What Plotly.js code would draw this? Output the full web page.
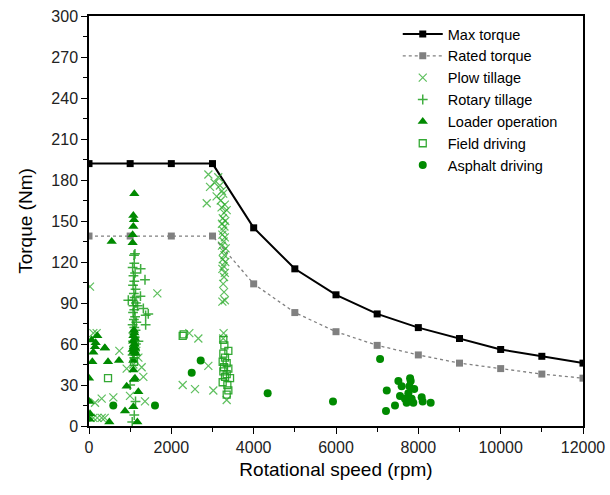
<!DOCTYPE html>
<html><head><meta charset="utf-8">
<script src="https://cdn.plot.ly/plotly-3.0.1.min.js"></script>
<style>body{margin:0;background:#fff}#g{width:610px;height:495px}</style>
</head><body><div id="g"></div>
<script>
// Envelope curves
const speedRpm = [0,1000,2000,3000,4000,5000,6000,7000,8000,9000,10000,11000,12000];
const maxTorque = [192,192,192,192,145,115,96,82,72,64,56,51,46];
const ratedTorque = [139,139,139,139,104,83,69,59,52,46,42,38,35];

// Axis ticks
const xTickVals = [0,2000,4000,6000,8000,10000,12000];
const xTickText = ['0','2000','4000','6000','8000','10000','12000'];
const yTickVals = [0,30,60,90,120,150,180,210,240,270,300];

// Plow tillage
const plowX = [2900,3140,3050,2940,3180,3230,2860,3345,3100,3200,3260,3300,3220,3280,3250,3310,3230,3290,3260,3240,3300,3270,3230,3320,3260,3290,3250,3310,3270,3240,3300,3280,3260,3280,3300,3270,3260,3345,
  24,1660,105,186,737,915,1279,1320,1360,591,308,146,105,308,202,381,40,996,2276,2575,3020,2437,2656,2899,1077,1200,1150,3240];
const plowY = [184,182,178,175,176,172,163,158,168,165,170,162,160,156,152,150,148,146,143,140,138,135,132,130,128,125,122,120,117,115,112,109,104,98,92,68,64,19,
  102,97,68,68,55,42,43,36,18,21,20,17,6,6,6,6,6,22,30,27,26,68,64,44,45,50,55,91];

// Rotary tillage
const rotaryX = [1093,1117,1255,1360,955,1376,1440,1376,1100,1060,1120,1080,1100,1070,1130,1090,1110,1060,1140,1080,1100,1070,1120,1090,1150,1060,1100,1130,1080,1110,1070,1140,1090,1120,1060,1100,1050,1100,1130,1000,1200,1250,1180,1320];
const rotaryY = [125,126,115,107,92,81,82,74,119,116,112,110,106,103,100,97,94,92,90,88,85,83,80,78,76,74,72,70,68,65,62,60,58,55,52,50,3,8,18,30,62,95,88,86];

// Loader operation
const loaderX = [1101,1077,1093,1077,1060,1060,551,1090,1100,1080,1110,1070,1100,1090,1120,1060,1100,1080,1130,1077,1077,1093,1117,915,1198,1077,875,1174,494,202,162,381,105,81,462,729,0,24,10,5,65,146,389];
const loaderY = [170,154,151,146,140,134,135,70,68,66,64,62,60,58,57,56,55,54,53,48,41,34,35,29,25,14,11,3,3,66,61,57,54,47,47,48,35,9,18,5,63,58,57];

// Field driving
const fieldX = [462,1093,2276,2300,3263,3288,3385,3263,3304,3247,3345,3280,3385,3263,3345,3304,3247,3426,3361,3385,3345];
const fieldY = [35,47,66,67,63,59,55,53,50,47,46,43,42,40,38,36,32,35,30,26,23];

// Asphalt driving
const asphaltX = [590,1603,2495,2713,4340,5927,7071,7233,7515,7814,7595,7757,7555,7838,8081,8105,8300,7433,7214,7716,7878,7675,7783,7800,7900];
const asphaltY = [15,15,39,48,24,18,49,26,33,33,29,24,22,20,21,18,17,15,11,17,17,20,29,35,27];

const green = '#008a00';
const traces = [
  {x:speedRpm, y:maxTorque, name:'Max torque', mode:'lines+markers',
   line:{color:'#000', width:2}, marker:{symbol:'square', size:7, color:'#000'}},
  {x:speedRpm, y:ratedTorque, name:'Rated torque', mode:'lines+markers',
   line:{color:'#808080', width:1.3, dash:'dot'}, marker:{symbol:'square', size:7, color:'#808080'}},
  {x:plowX, y:plowY, name:'Plow tillage', mode:'markers',
   marker:{symbol:'x-thin-open', size:8, color:'rgba(40,170,40,0.75)', line:{width:1.2}}},
  {x:rotaryX, y:rotaryY, name:'Rotary tillage', mode:'markers',
   marker:{symbol:'cross-thin-open', size:7, color:'rgba(30,160,30,0.85)', line:{width:1.5}}},
  {x:loaderX, y:loaderY, name:'Loader operation', mode:'markers',
   marker:{symbol:'triangle-up', size:9, color:green}},
  {x:fieldX, y:fieldY, name:'Field driving', mode:'markers',
   marker:{symbol:'square-open', size:7, color:'rgba(30,160,30,0.9)', line:{width:1.3}}},
  {x:asphaltX, y:asphaltY, name:'Asphalt driving', mode:'markers',
   marker:{symbol:'circle', size:8, color:green}}
];

const layout = {
  width:610, height:495,
  margin:{l:89, r:27, t:16, b:69},
  paper_bgcolor:'#fff', plot_bgcolor:'#fff',
  font:{family:'Liberation Sans, Arial, sans-serif', size:16, color:'#222'},
  showlegend:true,
  legend:{x:0.625, y:0.995, xanchor:'left', yanchor:'top', bgcolor:'rgba(0,0,0,0)',
    font:{size:14.5, color:'#000'}, tracegroupgap:0, itemwidth:40},
  xaxis:{range:[0,12000], tickvals:xTickVals, ticktext:xTickText, showgrid:false, zeroline:false,
    showline:true, linecolor:'#000', linewidth:1.5, mirror:true,
    ticks:'outside', ticklen:6, tickwidth:1.2, tickcolor:'#000',
    minor:{dtick:1000, ticks:'outside', ticklen:4, tickcolor:'#000', showgrid:false},
    title:{text:'Rotational speed (rpm)', font:{size:19, color:'#000'}, standoff:8}},
  yaxis:{range:[0,300], tickvals:yTickVals, showgrid:false, zeroline:false,
    showline:true, linecolor:'#000', linewidth:1.5, mirror:true,
    ticks:'outside', ticklen:6, tickwidth:1.2, tickcolor:'#000',
    minor:{dtick:15, ticks:'outside', ticklen:4, tickcolor:'#000', showgrid:false},
    title:{text:'Torque (Nm)', font:{size:19, color:'#000'}, standoff:14}}
};
Plotly.newPlot('g', traces, layout, {displayModeBar:false});
</script></body></html>
